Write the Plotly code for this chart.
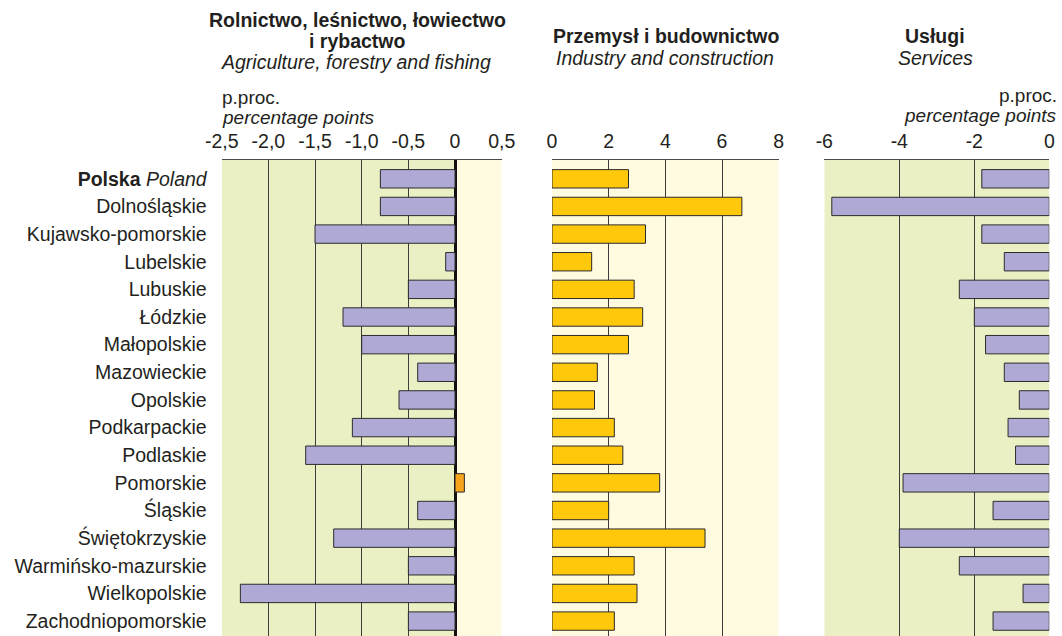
import plotly.graph_objects as go

# data: change in employment structure, percentage points
regions = ["Polska", "Dolnośląskie", "Kujawsko-pomorskie", "Lubelskie", "Lubuskie",
           "Łódzkie", "Małopolskie", "Mazowieckie", "Opolskie", "Podkarpackie",
           "Podlaskie", "Pomorskie", "Śląskie", "Świętokrzyskie",
           "Warmińsko-mazurskie", "Wielkopolskie", "Zachodniopomorskie"]
region_labels = ["<b>Polska</b> <i>Poland</i>"] + regions[1:]

agriculture = [-0.8, -0.8, -1.5, -0.1, -0.5, -1.2, -1.0, -0.4, -0.6,
               -1.1, -1.6, 0.1, -0.4, -1.3, -0.5, -2.3, -0.5]
industry = [2.7, 6.7, 3.3, 1.4, 2.9, 3.2, 2.7, 1.6, 1.5,
            2.2, 2.5, 3.8, 2.0, 5.4, 2.9, 3.0, 2.2]
services = [-1.8, -5.8, -1.8, -1.2, -2.4, -2.0, -1.7, -1.2, -0.8,
            -1.1, -0.9, -3.9, -1.5, -4.0, -2.4, -0.7, -1.5]

agri_ticks = [-2.5, -2.0, -1.5, -1.0, -0.5, 0, 0.5]
agri_ticktext = ["-2,5", "-2,0", "-1,5", "-1,0", "-0,5", "0", "0,5"]
ind_ticks = [0, 2, 4, 6, 8]
serv_ticks = [-6, -4, -2, 0]
serv_ticktext = ["-6", "-4", "-2", "0"]

W, H = 1062, 636
FONT = "Liberation Sans, Arial, Helvetica, sans-serif"
TXT = "#231f20"
GREEN_BG = "#ebf0c4"
YELLOW_BG = "#fefbe0"
LAVENDER = "#afaad5"
ORANGE = "#f7a41c"
YELLOW = "#ffc80a"
EDGE = "#2b2b2b"
GRID = "#3c3c3c"
PLOT_TOP = 160
FS = 19.5


def px_x(p):
    return p / W


def px_y(p):
    return 1 - p / H


fig = go.Figure()

bar_kw = dict(orientation="h", width=0.665, marker_line=dict(color=EDGE, width=1),
              hoverinfo="x+y", showlegend=False)

fig.add_trace(go.Bar(x=agriculture, y=regions, xaxis="x", yaxis="y",
                     marker_color=[ORANGE if v > 0 else LAVENDER for v in agriculture], **bar_kw))
fig.add_trace(go.Bar(x=industry, y=regions, xaxis="x2", yaxis="y",
                     marker_color=YELLOW, **bar_kw))
fig.add_trace(go.Bar(x=services, y=regions, xaxis="x3", yaxis="y",
                     marker_color=LAVENDER, **bar_kw))

axis_common = dict(side="top", showgrid=True, gridcolor=GRID, gridwidth=1,
                   showline=True, linecolor="#4a4a4a", linewidth=1, mirror=True,
                   ticks="", ticklabelstandoff=3, automargin=False,
                   tickfont=dict(size=FS, color=TXT, family=FONT),
                   fixedrange=True, anchor="y")

agri_range = [-2.5, 0.5]
ind_range = [0, 8]
serv_range = [-6, 0]

fig.update_layout(
    width=W, height=H,
    margin=dict(l=0, r=0, t=0, b=0, autoexpand=False),
    paper_bgcolor="white", plot_bgcolor="rgba(0,0,0,0)",
    font=dict(family=FONT, color=TXT, size=FS),
    bargap=0.335,
    xaxis=dict(domain=[px_x(221.7), px_x(501.7)], range=agri_range,
               tickvals=agri_ticks, ticktext=agri_ticktext,
               zeroline=True, zerolinecolor="#111111", zerolinewidth=2.5, **axis_common),
    xaxis2=dict(domain=[px_x(552), px_x(778.7)], range=ind_range,
                tickvals=ind_ticks, zeroline=False, **axis_common),
    xaxis3=dict(domain=[px_x(824.3), px_x(1049.3)], range=serv_range,
                tickvals=serv_ticks, ticktext=serv_ticktext, zeroline=False, **axis_common),
    yaxis=dict(domain=[0, px_y(PLOT_TOP)], anchor="x", type="category",
               range=[16.54, -0.68], tickvals=regions, ticktext=region_labels,
               ticks="", ticklabelstandoff=14, showgrid=False, zeroline=False,
               showline=False, fixedrange=True, automargin=False,
               tickfont=dict(size=FS, color=TXT, family=FONT)),
)

# panel backgrounds
shapes = [
    dict(type="rect", xref="x", yref="y domain", x0=agri_range[0], x1=0, y0=0, y1=1,
         fillcolor=GREEN_BG, line_width=0, layer="below"),
    dict(type="rect", xref="x", yref="y domain", x0=0, x1=agri_range[1], y0=0, y1=1,
         fillcolor=YELLOW_BG, line_width=0, layer="below"),
    dict(type="rect", xref="x2", yref="y domain", x0=ind_range[0], x1=ind_range[1], y0=0, y1=1,
         fillcolor=YELLOW_BG, line_width=0, layer="below"),
    dict(type="rect", xref="x3", yref="y domain", x0=serv_range[0], x1=serv_range[1], y0=0, y1=1,
         fillcolor=GREEN_BG, line_width=0, layer="below"),
]
fig.update_layout(shapes=shapes)


def note(text, x, y, anchor="center", size=FS):
    fig.add_annotation(text=text, x=px_x(x), y=px_y(y), xref="paper", yref="paper",
                       xanchor=anchor, yanchor="middle", showarrow=False,
                       font=dict(size=size, color=TXT, family=FONT))


# panel titles
note("<b>Rolnictwo, leśnictwo, łowiectwo</b>", 357, 20)
note("<b>i rybactwo</b>", 357, 41)
note("<i>Agriculture, forestry and fishing</i>", 356, 62)
note("<b>Przemysł i budownictwo</b>", 666, 36)
note("<i>Industry and construction</i>", 665, 58)
note("<b>Usługi</b>", 935, 36)
note("<i>Services</i>", 935, 58)

# units
note("p.proc.", 220, 97, "left", 19)
note("<i>percentage points</i>", 220, 117, "left", 19)
note("p.proc.", 1059, 96, "right", 19)
note("<i>percentage points</i>", 1059, 116, "right", 19)

# page has a default body margin; drop it so the figure fills the window
fig.write_html("out.html", config={"displayModeBar": False},
               post_script="document.body.style.margin='0';")
